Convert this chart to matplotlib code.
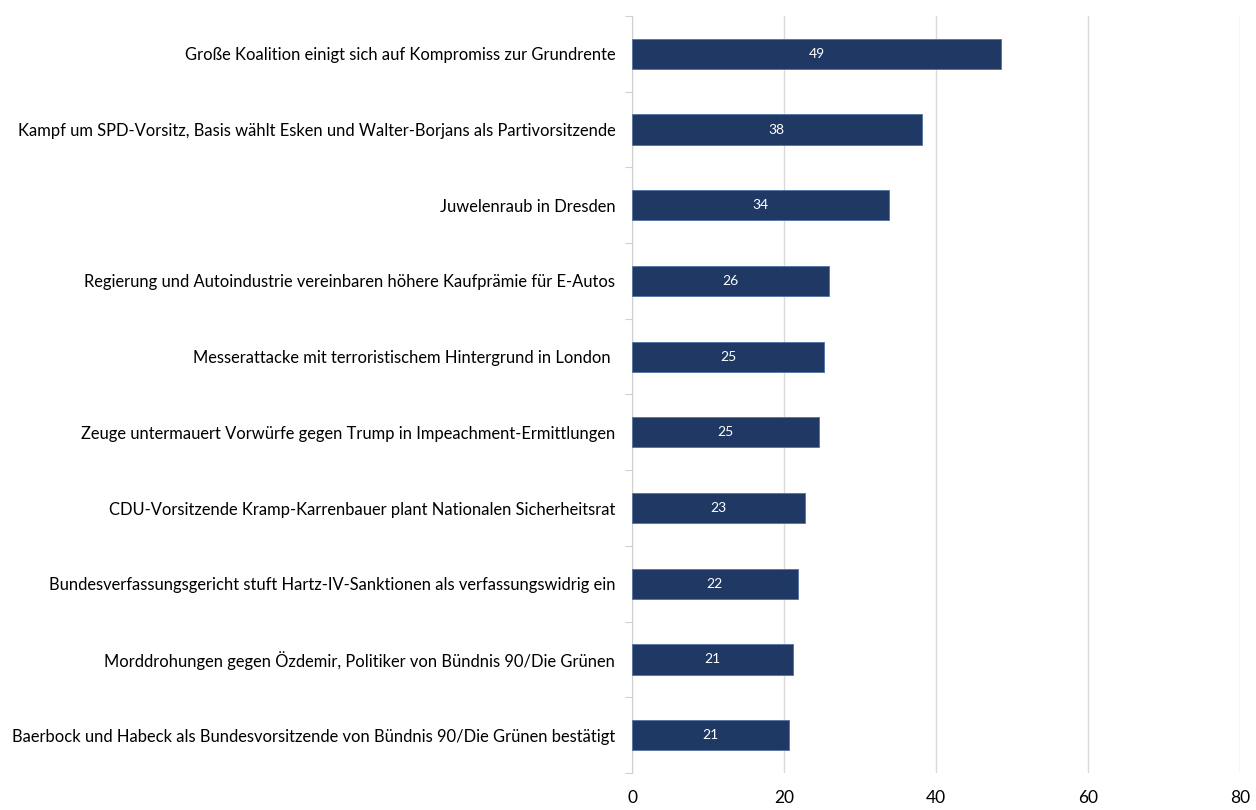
import matplotlib
matplotlib.use("Agg")
import matplotlib.pyplot as plt
import numpy as np
from matplotlib.ticker import FixedLocator

plt.rcParams['font.family'] = ['Lato', 'DejaVu Sans']

events = [
    "Große Koalition einigt sich auf Kompromiss zur Grundrente",
    "Kampf um SPD-Vorsitz, Basis wählt Esken und Walter-Borjans als Partivorsitzende",
    "Juwelenraub in Dresden",
    "Regierung und Autoindustrie vereinbaren höhere Kaufprämie für E-Autos",
    "Messerattacke mit terroristischem Hintergrund in London ",
    "Zeuge untermauert Vorwürfe gegen Trump in Impeachment-Ermittlungen",
    "CDU-Vorsitzende Kramp-Karrenbauer plant Nationalen Sicherheitsrat",
    "Bundesverfassungsgericht stuft Hartz-IV-Sanktionen als verfassungswidrig ein",
    "Morddrohungen gegen Özdemir, Politiker von Bündnis 90/Die Grünen",
    "Baerbock und Habeck als Bundesvorsitzende von Bündnis 90/Die Grünen bestätigt",
]
shares = [48.6, 38.1, 33.8, 25.9, 25.3, 24.6, 22.7, 21.8, 21.2, 20.6]
x_ticks = [0, 20, 40, 60, 80]

fig = plt.figure(figsize=(12.56, 8.10), dpi=100)
ax = fig.add_axes([632/1256, 1 - 773/810, (1240-632)/1256, (773-16)/810])

y = np.arange(len(events))
ax.barh(y, shares, height=0.4, color='#203864', edgecolor='#5a78a6',
        linewidth=0.7, zorder=3)
for yi, v in zip(y, shares):
    ax.text(v / 2, yi, f"{v:.0f}", ha='center', va='center', color='white',
            fontsize=10, zorder=4)

ax.set_ylim(len(events) - 0.5, -0.5)
ax.set_xlim(0, 80)
ax.set_xticks(x_ticks)
ax.set_xticklabels([str(t) for t in x_ticks], fontsize=12.5)
ax.tick_params(axis='x', length=0, pad=12)

ax.set_yticks(y)
ax.set_yticklabels(events, fontsize=11.9)
ax.tick_params(axis='y', which='major', length=0, pad=12)
ax.yaxis.set_minor_locator(FixedLocator(np.arange(-0.5, len(events) + 0.5, 1)))
ax.tick_params(axis='y', which='minor', length=5, color='#d0d0d0', width=0.8)

ax.grid(axis='x', color='#d9d9d9', linewidth=1.0, zorder=0)
for s in ['top', 'right', 'bottom']:
    ax.spines[s].set_visible(False)
ax.spines['left'].set_color('#d0d0d0')
ax.spines['left'].set_linewidth(0.8)

fig.savefig("out.png", dpi=100)
